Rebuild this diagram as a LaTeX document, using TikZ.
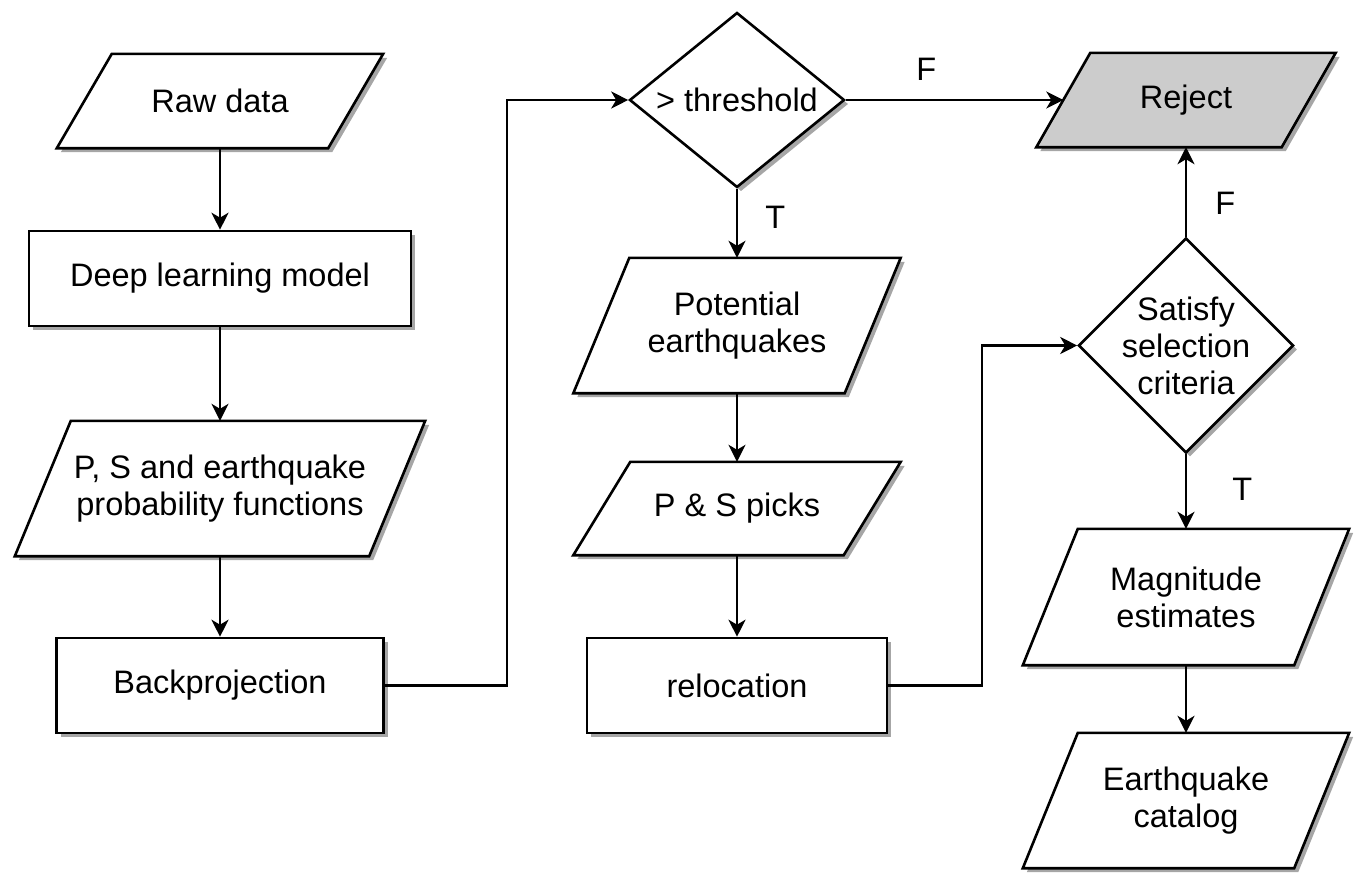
\documentclass[tikz,border=0pt]{standalone}
\usepackage{fontspec}
\setmainfont{Liberation Sans}
\usetikzlibrary{arrows.meta,shapes.geometric,shadows,calc}
\pgfdeclarelayer{canvas}
\pgfdeclarelayer{bg}
\pgfsetlayers{canvas,bg,main}
\tikzset{
  txt/.style={font=\fontsize{32.5}{37}\selectfont, align=center},
  shade/.style={drop shadow={shadow xshift=4pt, shadow yshift=-4pt, opacity=0.35, fill=black}},
  procbox/.style={txt, rectangle, draw, fill=white, line width=2.6pt, shade, inner sep=0pt},
  decision/.style={txt, diamond, draw, fill=white, line width=2.6pt, shade, inner sep=0pt},
  iotext/.style={txt, rectangle, inner sep=0pt},
  iobox/.style={draw, line width=2.6pt, line join=miter, shade},
  arr/.style={line width=2.6pt, -{Stealth[length=17pt, width=17pt, inset=5pt]}},
  edgelbl/.style={txt, inner sep=0pt},
}
\newcommand\iopath[3][white]{%
  \begin{pgfonlayer}{bg}
    \path[iobox, fill=#1] ($(#2.north west)+(#3,0)$) -- (#2.north east)
      -- ($(#2.south east)-(#3,0)$) -- (#2.south west) -- cycle;
  \end{pgfonlayer}}
\begin{document}
\begin{tikzpicture}[x=1pt, y=-1pt]
\begin{pgfonlayer}{canvas}
  \fill[white] (0,0) rectangle (1357,879);
\end{pgfonlayer}
\useasboundingbox (0,0) rectangle (1357,879);

% column 1
\node[iotext, minimum width=326pt, minimum height=94pt] (raw) at (220,101) {Raw data};
\iopath{raw}{55}
\node[procbox, minimum width=382pt, minimum height=95pt] (dl) at (220,278.5) {Deep learning model};
\node[iotext, minimum width=410pt, minimum height=135pt] (ps) at (220,488.5) {P, S and earthquake\\probability functions};
\iopath{ps}{56}
\node[procbox, minimum width=327pt, minimum height=95pt] (bp) at (220,685.5) {Backprojection};

% column 2
\node[decision, minimum width=215pt, minimum height=175pt, aspect=1.23] (thr) at (737,100) {> threshold};
\node[iotext, minimum width=327pt, minimum height=135pt] (pe) at (737,325.5) {Potential\\earthquakes};
\iopath{pe}{56}
\node[iotext, minimum width=327pt, minimum height=93pt] (pick) at (737,508.5) {P \& S picks};
\iopath{pick}{57}
\node[procbox, minimum width=300pt, minimum height=95pt] (rel) at (737,685.5) {relocation};

% column 3
\node[iotext, minimum width=299pt, minimum height=94pt] (rej) at (1186,100) {Reject};
\iopath[black!20]{rej}{54}
\node[decision, minimum width=215pt, minimum height=215pt, aspect=1, inner sep=-4pt] (sat) at (1186,345.5) {Satisfy\\selection\\criteria};
\node[iotext, minimum width=326pt, minimum height=136pt] (mag) at (1186,597) {Magnitude\\estimates};
\iopath{mag}{55}
\node[iotext, minimum width=326pt, minimum height=135pt] (cat) at (1186,800.5) {Earthquake\\catalog};
\iopath{cat}{55}

% bend points
\coordinate (k1) at (507,0);
\coordinate (k2) at (982,0);

% connectors
\draw[arr] (raw.south) -- (dl.north);
\draw[arr] (dl.south) -- (ps.north);
\draw[arr] (ps.south) -- (bp.north);
\draw[arr] (bp.east) -- (bp.east -| k1) -- (thr.west -| k1) -- (thr.west);
\draw[arr] (thr.south) -- node[edgelbl, pos=0.41, right=27pt] (t1) {T} (pe.north);
\draw[arr] (thr.east) -- node[edgelbl, pos=0.37, above=18pt] (f1) {F} ($(rej.west)+(27,0)$);
\draw[arr] (pe.south) -- (pick.north);
\draw[arr] (pick.south) -- (rel.north);
\draw[arr] (rel.east) -- (rel.east -| k2) -- (sat.west -| k2) -- (sat.west);
\draw[arr] (sat.north) -- node[edgelbl, pos=0.37, right=28pt] (f2) {F} (rej.south);
\draw[arr] (sat.south) -- node[edgelbl, pos=0.47, right=45pt] (t2) {T} (mag.north);
\draw[arr] (mag.south) -- (cat.north);
\end{tikzpicture}
\end{document}
